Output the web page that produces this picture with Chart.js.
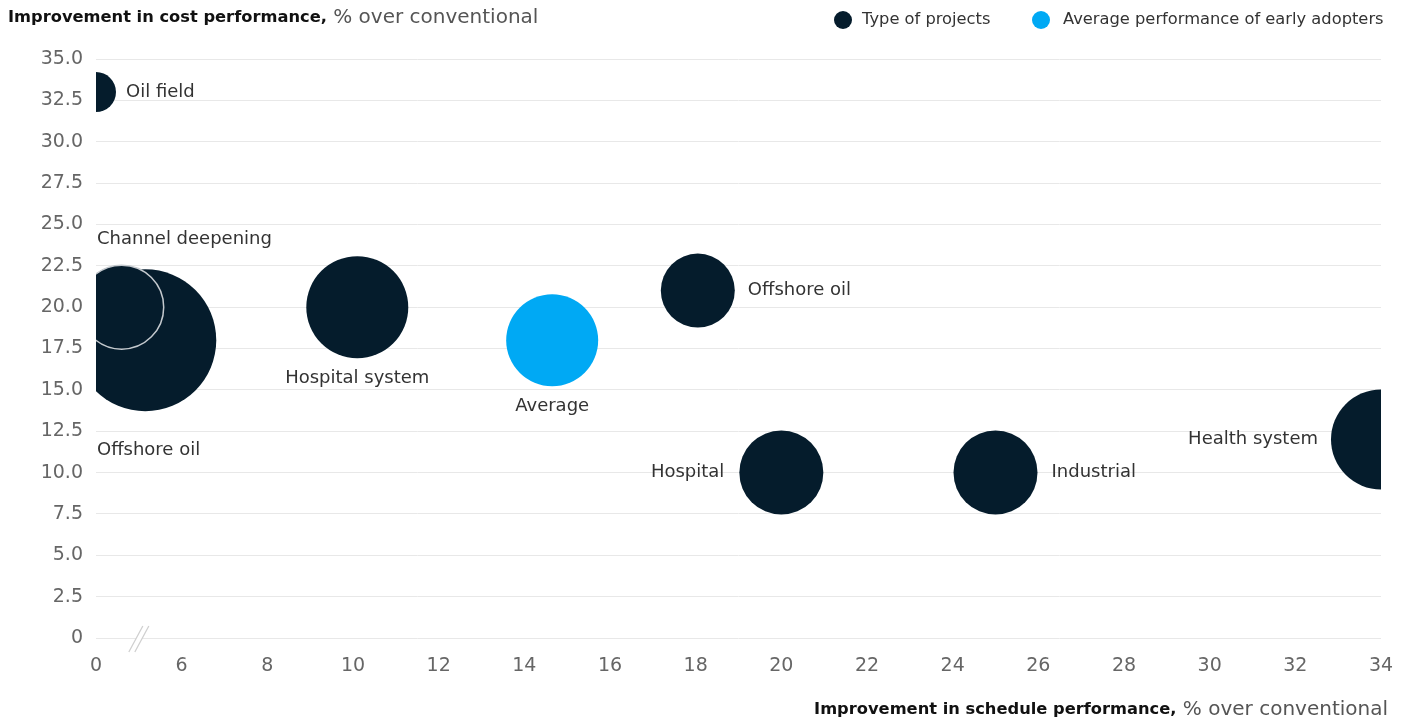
<!DOCTYPE html>
<html>
<head>
<meta charset="utf-8">
<script src="https://cdn.jsdelivr.net/npm/chart.js@4.4.1/dist/chart.umd.min.js"></script>
<style>
  html, body { margin: 0; padding: 0; background: #fff; }
  #wrap { width: 1403px; height: 723px; position: relative; }
</style>
</head>
<body>
<div id="wrap"><canvas id="chart" width="1403" height="723"></canvas></div>
<script>
// x axis is broken: the first tick (position 4) stands for 0
const projectNames = ["Offshore oil", "Channel deepening", "Oil field", "Hospital system", "Offshore oil", "Hospital", "Industrial", "Health system"];
const projectSchedule = [5.15, 4.6, 4, 10.1, 18.05, 20, 25, 34];
const projectCost = [18, 20, 33, 20, 21, 10, 10, 12];
const projectSize = [71, 42, 20, 51, 37, 42, 42, 50];

const averageName = ["Average"];
const averageSchedule = [14.65];
const averageCost = [18];
const averageSize = [46];

const xTicks = [4, 6, 8, 10, 12, 14, 16, 18, 20, 22, 24, 26, 28, 30, 32, 34];
const yTicks = [0, 2.5, 5, 7.5, 10, 12.5, 15, 17.5, 20, 22.5, 25, 27.5, 30, 32.5, 35];

// where each label sits relative to its bubble
const projectLabelSide = [["below", 39], ["above", 26], ["right", 10], ["below", 20], ["right", 13], ["left", 15], ["right", 14], ["left", 13]];
const averageLabelSide = [["below", 20]];

const NAVY = "#051c2c";
const BLUE = "#00a9f4";
const FONT = "'DejaVu Sans', sans-serif";

const toPoints = (xs, ys, rs) => xs.map((x, i) => ({ x: x, y: ys[i], r: rs[i] }));

const bubbleLabels = {
  id: "bubbleLabels",
  afterDatasetsDraw(chart) {
    const ctx = chart.ctx;
    const area = chart.chartArea;
    const sets = [[projectNames, projectLabelSide], [averageName, averageLabelSide]];
    ctx.save();
    ctx.font = "18px " + FONT;
    ctx.fillStyle = "#333";
    ctx.textBaseline = "middle";
    sets.forEach(([names, sides], di) => {
      const meta = chart.getDatasetMeta(di);
      meta.data.forEach((pt, i) => {
        const r = chart.data.datasets[di].data[i].r;
        const text = names[i];
        const w = ctx.measureText(text).width;
        const [side, gap] = sides[i];
        let x, y;
        if (side === "right") { x = pt.x + r + gap; y = pt.y; }
        else if (side === "left") { x = pt.x - r - gap - w; y = pt.y; }
        else if (side === "below") { x = pt.x - w / 2; y = pt.y + r + gap; }
        else { x = pt.x - w / 2; y = pt.y - r - gap; }
        x = Math.max(area.left + 1, x);
        ctx.textAlign = "left";
        ctx.fillText(text, x, y);
      });
    });
    ctx.restore();
  }
};

const decorations = {
  id: "decorations",
  afterDraw(chart) {
    const ctx = chart.ctx;
    const xs = chart.scales.x;
    const ys = chart.scales.y;
    ctx.save();
    // axis break mark
    const bx = xs.getPixelForValue(5);
    const by = ys.getPixelForValue(0);
    ctx.fillStyle = "#fff";
    ctx.beginPath();
    ctx.moveTo(bx - 10, by + 14); ctx.lineTo(bx + 4, by - 12);
    ctx.lineTo(bx + 10, by - 12); ctx.lineTo(bx - 4, by + 14);
    ctx.closePath(); ctx.fill();
    ctx.strokeStyle = "#d0d0d0";
    ctx.lineWidth = 1.3;
    ctx.beginPath();
    ctx.moveTo(bx - 10, by + 14); ctx.lineTo(bx + 4, by - 12);
    ctx.moveTo(bx - 4, by + 14); ctx.lineTo(bx + 10, by - 12);
    ctx.stroke();

    // titles
    const boldFont = "bold 16.3px " + FONT;
    const regFont = "20px " + FONT;
    ctx.textBaseline = "middle";
    ctx.textAlign = "left";
    ctx.fillStyle = "#111";
    ctx.font = boldFont;
    const t1 = "Improvement in cost performance,";
    ctx.fillText(t1, 8, 18);
    const w1 = ctx.measureText(t1).width;
    ctx.fillStyle = "#555";
    ctx.font = regFont;
    ctx.fillText(" % over conventional", 8 + w1, 18);

    ctx.font = regFont;
    const t3 = " % over conventional";
    const w3 = ctx.measureText(t3).width;
    ctx.font = boldFont;
    const t2 = "Improvement in schedule performance,";
    const w2 = ctx.measureText(t2).width;
    const startX = 1388 - w2 - w3;
    ctx.fillStyle = "#111";
    ctx.fillText(t2, startX, 710);
    ctx.fillStyle = "#555";
    ctx.font = regFont;
    ctx.fillText(t3, startX + w2, 710);

    // legend
    ctx.font = "16.3px " + FONT;
    ctx.fillStyle = NAVY;
    ctx.beginPath(); ctx.arc(843, 20, 9, 0, Math.PI * 2); ctx.fill();
    ctx.fillStyle = "#333";
    ctx.fillText(chart.data.datasets[0].label, 862, 20);
    ctx.fillStyle = BLUE;
    ctx.beginPath(); ctx.arc(1041, 20, 9, 0, Math.PI * 2); ctx.fill();
    ctx.fillStyle = "#333";
    ctx.fillText(chart.data.datasets[1].label, 1063, 20);
    ctx.restore();
  }
};

new Chart(document.getElementById("chart"), {
  type: "bubble",
  data: {
    datasets: [
      {
        label: "Type of projects",
        data: toPoints(projectSchedule, projectCost, projectSize),
        backgroundColor: NAVY,
        borderColor: projectNames.map((n, i) => (i === 1 ? "#c4c9ce" : NAVY)),
        borderWidth: projectNames.map((n, i) => (i === 1 ? 1.5 : 0)),
        hoverRadius: 0,
        clip: 0
      },
      {
        label: "Average performance of early adopters",
        data: toPoints(averageSchedule, averageCost, averageSize),
        backgroundColor: BLUE,
        borderWidth: 0,
        hoverRadius: 0,
        clip: 0
      }
    ]
  },
  options: {
    responsive: false,
    animation: false,
    events: [],
    layout: { autoPadding: false, padding: { top: 59, right: 22, bottom: 0, left: 0 } },
    plugins: {
      legend: { display: false },
      tooltip: { enabled: false }
    },
    scales: {
      x: {
        type: "linear",
        min: xTicks[0],
        max: xTicks[xTicks.length - 1],
        afterBuildTicks: (scale) => { scale.ticks = xTicks.map((v) => ({ value: v })); },
        afterFit: (scale) => {
          scale.height = 85;
          scale.paddingLeft = 0;
          scale.paddingRight = 0;
        },
        grid: { display: false, drawTicks: false },
        border: { display: false },
        ticks: {
          padding: 17,
          maxRotation: 0,
          color: "#666",
          font: { family: FONT, size: 19 },
          callback: (v) => (v === xTicks[0] ? "0" : String(v))
        }
      },
      y: {
        type: "linear",
        min: yTicks[0],
        max: yTicks[yTicks.length - 1],
        afterBuildTicks: (scale) => { scale.ticks = yTicks.map((v) => ({ value: v })); },
        afterFit: (scale) => {
          scale.width = 96;
          scale.paddingTop = 0;
          scale.paddingBottom = 0;
        },
        grid: { color: "#e8e8e8", lineWidth: 1, drawTicks: false },
        border: { display: false },
        ticks: {
          padding: 13,
          color: "#666",
          font: { family: FONT, size: 19 },
          callback: (v) => (v === 0 ? "0" : v.toFixed(1))
        }
      }
    }
  },
  plugins: [bubbleLabels, decorations]
});
</script>
</body>
</html>
